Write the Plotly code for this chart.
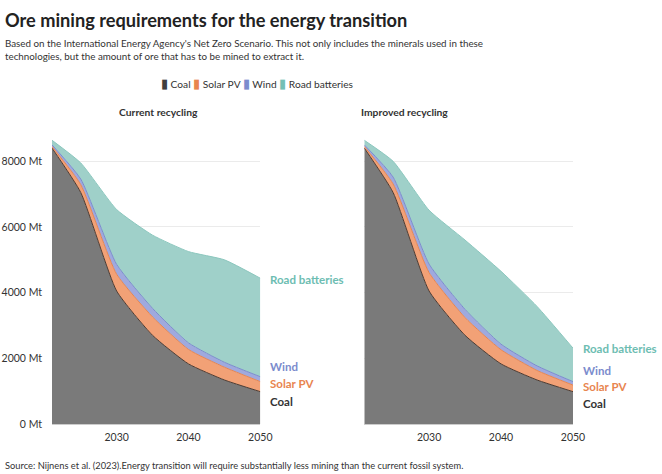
import plotly.graph_objects as go

# data (Mt of ore)
years = [2021, 2025, 2030, 2035, 2040, 2045, 2050]
coal = [8400, 7050, 4050, 2700, 1830, 1340, 985]

solar_cur = [50, 240, 510, 560, 440, 390, 305]
wind_cur = [50, 170, 300, 260, 200, 150, 150]
batt_cur = [140, 490, 1670, 2230, 2780, 3120, 3000]

solar_imp = [50, 260, 560, 540, 430, 290, 200]
wind_imp = [50, 210, 260, 250, 170, 140, 105]
batt_imp = [140, 480, 1640, 2110, 2220, 1810, 1020]

series_names = ["Coal", "Solar PV", "Wind", "Road batteries"]
y_ticks = [0, 2000, 4000, 6000, 8000]
y_tick_text = ["0 Mt", "2000 Mt", "4000 Mt", "6000 Mt", "8000 Mt"]
x_ticks = [2030, 2040, 2050]

legend_colors = ["#3f3f3f", "#e8854f", "#7b8ccd", "#72bfb5"]
fill_colors = ["#7a7a7a", "#f2a176", "#9fa9de", "#9fd0c9"]
line_colors = ["#4a3a32", "#e8854f", "#7b8ccd", "#8cc7be"]
label_colors = ["#333333", "#e8854f", "#7b8ccd", "#6dbdb2"]

# end label heights (layout only, spaced apart like the original)
label_y_cur = [700, 1220, 1740, 4390]
label_y_imp = [610, 1140, 1630, 2290]

FONT = "Lato"

# pixel helpers for the 662x474 canvas
L, R, T, B = 52, 89, 135, 50
W = 662 - L - R
H = 474 - T - B


def px(x):
    return (x - L) / W


def py(y):
    return (474 - B - y) / H


fig = go.Figure()

panels = [
    ("x", "y", [coal, solar_cur, wind_cur, batt_cur], "cur", label_y_cur),
    ("x2", "y2", [coal, solar_imp, wind_imp, batt_imp], "imp", label_y_imp),
]

for xa, ya, layers, grp, label_y in panels:
    top = [0] * len(years)
    for i, vals in enumerate(layers):
        fig.add_trace(go.Scatter(
            x=years, y=vals, name=series_names[i], stackgroup=grp,
            xaxis=xa, yaxis=ya, mode="lines",
            line=dict(color=line_colors[i], width=1, shape="spline", smoothing=0.5),
            fillcolor=fill_colors[i], showlegend=False, hoverinfo="skip",
        ))
        top = [t + v for t, v in zip(top, vals)]
        # end label + small connector
        fig.add_annotation(
            x=years[-1], y=label_y[i], xref=xa, yref=ya, text="<b>%s</b>" % series_names[i],
            showarrow=False, xanchor="left", yanchor="middle", xshift=8,
            font=dict(family=FONT, size=11.5, color=label_colors[i]),
        )
        fig.add_shape(
            type="line", xref=xa, yref=ya, xsizemode="pixel", xanchor=years[-1],
            x0=7, x1=7, y0=label_y[i], y1=top[-1],
            line=dict(color="#bbbbbb", width=1),
        )

# title, subtitle, legend, source
fig.add_annotation(
    x=px(3), y=py(20), xref="paper", yref="paper", xanchor="left", yanchor="middle",
    text="<b>Ore mining requirements for the energy transition</b>", showarrow=False,
    font=dict(family=FONT, size=18.2, color="#222222"),
)
fig.add_annotation(
    x=px(3), y=py(49.5), xref="paper", yref="paper", xanchor="left", yanchor="middle",
    align="left", showarrow=False,
    text="Based on the International Energy Agency's Net Zero Scenario. This not only includes the minerals used in these<br>"
         "technologies, but the amount of ore that has to be mined to extract it.",
    font=dict(family=FONT, size=9.8, color="#333333"),
)
legend_text = " ".join(
    "<span style='color:%s;font-size:13px'>\u25ae</span> %s" % (c, n) for c, n in zip(legend_colors, series_names)
)
fig.add_annotation(
    x=px(257), y=py(83), xref="paper", yref="paper", xanchor="center", yanchor="middle",
    text=legend_text, showarrow=False, font=dict(family=FONT, size=10.2, color="#333333"),
)
fig.add_annotation(
    x=px(158), y=py(112), xref="paper", yref="paper", xanchor="center", yanchor="middle",
    text="<b>Current recycling</b>", showarrow=False, font=dict(family=FONT, size=10.3, color="#333333"),
)
fig.add_annotation(
    x=px(404), y=py(112), xref="paper", yref="paper", xanchor="center", yanchor="middle",
    text="<b>Improved recycling</b>", showarrow=False, font=dict(family=FONT, size=10.3, color="#333333"),
)
fig.add_annotation(
    x=px(3), y=py(465), xref="paper", yref="paper", xanchor="left", yanchor="middle",
    text="Source: Nijnens et al. (2023).Energy transition will require substantially less mining than the current fossil system.",
    showarrow=False, font=dict(family=FONT, size=9.3, color="#333333"),
)

xaxis_style = dict(
    range=[2021, 2050], tickvals=x_ticks, showgrid=False, zeroline=False, automargin=False,
    showline=True, linecolor="#cccccc", ticks="", ticklabelstandoff=3,
    tickfont=dict(family=FONT, size=10.5, color="#333333"),
)
yaxis_style = dict(
    range=[0, 8800], tickvals=y_ticks, ticktext=y_tick_text, showgrid=True, gridcolor="#ebebeb",
    zeroline=False, ticks="", automargin=False, tickfont=dict(family=FONT, size=10.5, color="#333333"),
)

fig.update_layout(
    width=662, height=474, margin=dict(l=L, r=R, t=T, b=B),
    paper_bgcolor="white", plot_bgcolor="white", showlegend=False,
    xaxis=dict(domain=[0, px(260.3)], **xaxis_style),
    xaxis2=dict(domain=[px(364.3), 1], **xaxis_style),
    yaxis=dict(anchor="x", ticklabelstandoff=9, **yaxis_style),
    yaxis2=dict(anchor="x2", showticklabels=False, **yaxis_style),
)

fig.write_html("out.html", config={"displayModeBar": False},
               post_script="document.body.style.margin='0px';")
